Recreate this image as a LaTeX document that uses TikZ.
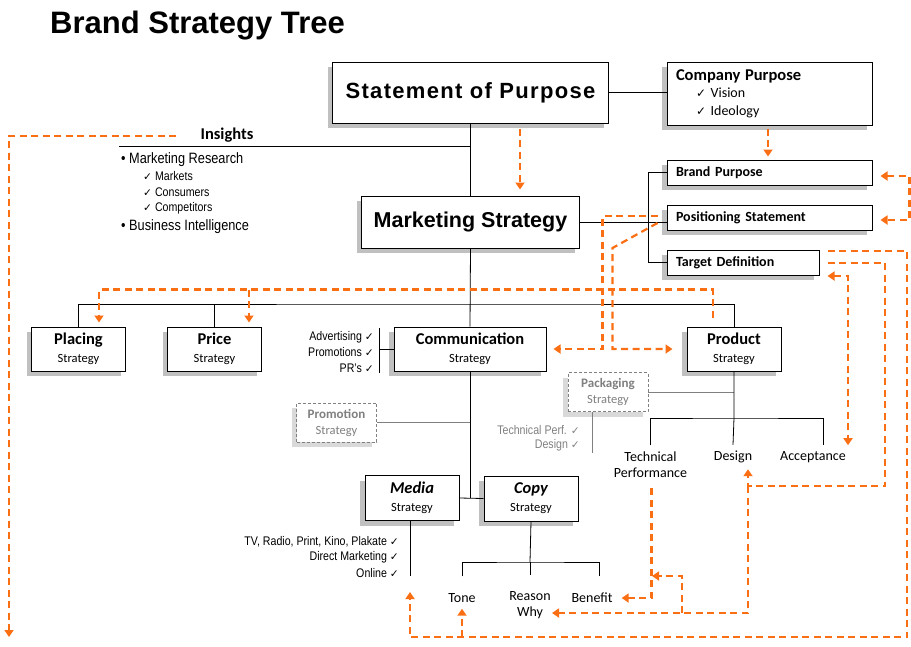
\documentclass[tikz,border=0pt]{standalone}
\usepackage{fontspec}
\setmainfont{Carlito}
\newfontfamily\arialfont{Liberation Sans}
\newfontfamily\spacedfont{Liberation Sans}[LetterSpace=6]
\newfontfamily\narrowfont{Liberation Sans}[FakeStretch=0.85]
\newfontfamily\symfont{DejaVu Sans}[Scale=0.85]
\usetikzlibrary{arrows.meta,shadows}
\definecolor{flowcol}{RGB}{250,110,20}
\definecolor{shadecol}{RGB}{192,192,192}
\definecolor{dimcol}{RGB}{128,128,128}
\newcommand{\ok}{{\symfont ✓}}
\newcommand{\stratname}[1]{{\fontsize{16.5}{18}\selectfont\bfseries #1}\\Strategy}
\newcommand{\ghostname}[1]{{\fontsize{13}{16}\selectfont\bfseries #1}\\Strategy}

\begin{document}
\begin{tikzpicture}[x=1pt,y=-1pt,>={Triangle[width=9pt,length=7pt]}]
\tikzset{
  box/.style={draw,line width=1pt,fill=white,inner sep=0pt,
    drop shadow={shadow xshift=-5pt,shadow yshift=-5pt,fill=shadecol,opacity=1}},
  stratbox/.style={box,minimum width=94,minimum height=44,align=center,font=\fontsize{12.5}{18}\selectfont},
  purposebox/.style={box,minimum height=25,inner xsep=9pt,align=left,font=\bfseries\fontsize{14}{16}\selectfont},
  ghostbox/.style={draw=dimcol,dash pattern=on 3pt off 2pt,line width=0.8pt,fill=white,text=dimcol,inner sep=0pt,
    minimum width=80,minimum height=39,align=center,font=\fontsize{12.5}{16}\selectfont,
    drop shadow={shadow xshift=-5pt,shadow yshift=-5pt,fill=black!15,opacity=1}},
  leaf/.style={inner xsep=1pt,inner ysep=6pt,align=center,font=\fontsize{14}{16.5}\selectfont},
  note/.style={inner sep=1pt,font=\narrowfont\fontsize{12.5}{14}\selectfont},
  tree/.style={line width=0.8pt},
  dimtree/.style={line width=0.8pt,draw=dimcol},
  flow/.style={draw=flowcol,line width=2.2pt,dash pattern=on 7pt off 4.5pt}
}
\useasboundingbox (0,0) rectangle (911,646);

\draw (50,33) node[anchor=base west,inner sep=0pt,font=\arialfont\bfseries\fontsize{31}{31}\selectfont] (title) {Brand Strategy Tree};

\draw (470.5,92.5) node[box,minimum width=276,minimum height=61,font=\spacedfont\bfseries\fontsize{22}{22}\selectfont] (sop) {Statement of Purpose};
\draw (769.5,93.5) node[box,minimum width=205,minimum height=63,text width=187,inner xsep=9pt,align=left,font=\fontsize{14}{17.5}\selectfont] (cp)
  {{\bfseries\fontsize{16.5}{17.5}\selectfont Company Purpose}\\\hspace*{20pt}\ok\ Vision\\\hspace*{20pt}\ok\ Ideology};
\draw (470.5,222) node[box,minimum width=218,minimum height=52,font=\arialfont\bfseries\fontsize{21.5}{22}\selectfont] (ms) {Marketing Strategy};

\draw (769.5,172.5) node[purposebox,text width=187] (bp) {Brand Purpose};
\draw (769.5,217.5) node[purposebox,text width=187] (ps) {Positioning Statement};
\draw (743,262.5) node[purposebox,text width=134] (td) {Target Definition};

\draw (227,135) node[inner sep=0pt,font=\bfseries\fontsize{16.5}{18}\selectfont] (insights) {Insights};
\draw (120,160) node[anchor=west,inner sep=1pt,font=\narrowfont\fontsize{15}{16}\selectfont] (mr) {\textbullet\ Marketing Research};
\draw (142,176.5) node[note,anchor=west] (mk) {\ok\ Markets};
\draw (142,192) node[note,anchor=west] (cs) {\ok\ Consumers};
\draw (142,208) node[note,anchor=west] (cmp) {\ok\ Competitors};
\draw (120,227) node[anchor=west,inner sep=1pt,font=\narrowfont\fontsize{15}{16}\selectfont] (bi) {\textbullet\ Business Intelligence};

\draw (78.5,349) node[stratbox] (placing) {\stratname{Placing}};
\draw (214.5,349) node[stratbox] (price) {\stratname{Price}};
\draw (470,349) node[stratbox,minimum width=152] (comm) {\stratname{Communication}};
\draw (734,349) node[stratbox] (product) {\stratname{Product}};
\draw (412,498) node[stratbox,minimum height=45] (media) {\stratname{\itshape Media}};
\draw (531,498.5) node[stratbox,minimum height=45] (copy) {\stratname{\itshape Copy}};

\draw (375,337) node[note,anchor=east] (adv) {Advertising \ok};
\draw (375,352) node[note,anchor=east] (prm) {Promotions \ok};
\draw (375,368) node[note,anchor=east] (prs) {PR’s \ok};

\draw (336.5,422.5) node[ghostbox] (promo) {\ghostname{Promotion}};
\draw (608,392) node[ghostbox] (pack) {\ghostname{Packaging}};
\draw (581,430) node[note,anchor=east,text=dimcol] (tperf) {Technical Perf. \ok};
\draw (581,445.5) node[note,anchor=east,text=dimcol] (pdes) {Design \ok};

\draw (650.5,464.5) node[leaf] (tp) {Technical\\Performance};
\draw (733,457) node[leaf] (design) {Design};
\draw (813,457) node[leaf] (accept) {Acceptance};

\draw (400,542) node[note,anchor=east] (tvr) {TV, Radio, Print, Kino, Plakate \ok};
\draw (400,557.5) node[note,anchor=east] (dm) {Direct Marketing \ok};
\draw (400,573) node[note,anchor=east] (onl) {Online \ok};

\draw (462,598) node[leaf] (tone) {Tone};
\draw (530,605) node[leaf] (reason) {Reason\\Why};
\draw (592,598) node[leaf] (benefit) {Benefit};

\coordinate (insl) at (119,146);
\coordinate (bus) at (470.5,304);
\coordinate (pbus) at (734,418);
\coordinate (cbus) at (530,562);
\coordinate (cbt) at (379,328);
\coordinate (cbb) at (379,373);
\coordinate (mend) at (410,576);
\coordinate (pkend) at (592,453);
\coordinate (insend) at (9,637);
\coordinate (lowright) at (907,637);
\coordinate (tdc) at (885,486);
\coordinate (dsn) at (748,486);
\coordinate (tjn) at (682,613);
\coordinate (tpk) at (651,576);

\draw[tree] (sop.east) -- (sop.east -| cp.west);
\draw[tree] (sop.south) -- (ms.north);
\draw[tree] (insl) -- (insl -| sop.south);
\draw[tree] (ms.east) -- (ms.east -| ps.west);
\draw[tree] (bp.west) -- ++(-18,0) |- (td.west);
\draw[tree] (ms.south) -- (comm.north);
\draw[tree] (placing.north) |- (bus) -| (product.north);
\draw[tree] (price.north) -- (price.north |- bus);
\draw[tree] (comm.west) -- (comm.west -| cbt);
\draw[tree] (cbt) -- (cbb);
\draw[tree] (comm.south) -- (comm.south |- media.east);
\draw[tree] (media.east) -- (copy.west);
\draw[dimtree] (promo.east) -- (promo.east -| comm.south);
\draw[dimtree] (pack.east) -- (pack.east -| product.south);
\draw[dimtree] (pack.south -| pkend) -- (pkend);
\draw[tree] (product.south) -- (pbus) -- (design.north);
\draw[tree] (tp.north) |- (pbus) -| ([xshift=10pt]accept.north);
\draw[tree] (media.south -| mend) -- (mend);
\draw[tree] (copy.south) -- (cbus);
\draw[tree] ([shift={(0,-11)}]tone.north) |- (cbus) -| ([shift={(7,-11)}]benefit.north);
\draw[tree] (cbus) -- ([shift={(0,-10)}]reason.north);

\draw[flow,->] ([shift={(-24,1)}]insights.west) -| (insend);
\draw[flow,->] ([shift={(49.5,5)}]sop.south) -- ([shift={(49.5,-6)}]ms.north);
\draw[flow,->] ([shift={(-1.5,3)}]cp.south) -- ([shift={(-1.5,-3)}]bp.north);
\draw[flow,<->] ([shift={(8,3.5)}]bp.east) -- ++(29,0) |- ([shift={(8,2.5)}]ps.east);
\draw[flow,->] ([shift={(-9,-1.5)}]ps.west) -| ([xshift=56pt]comm.east) -- ([xshift=7pt]comm.east);
\draw[flow,->] ([shift={(-9,5.5)}]ps.west) -- ++(-45,25) |- ([xshift=-14pt]product.west);
\draw[flow,->] ([shift={(-21,-9)}]product.north) |- ([shift={(20.5,-37)}]placing.north) -- ([shift={(20.5,-4)}]placing.north);
\draw[flow,->] ([shift={(34.5,-37)}]price.north) -- ([shift={(34.5,-4)}]price.north);
\draw[flow,->] ([shift={(8,-11.5)}]td.east) -| (lowright) -| ([shift={(0,16)}]mend);
\draw[flow,->] (tone.south |- lowright) -- (tone.south);
\draw[flow,->] ([shift={(8,0.5)}]td.east) -| (tdc) -- (dsn) -- (dsn |- design.south);
\draw[flow,->] (dsn) |- ([shift={(22,8)}]reason.center);
\draw[flow,->] (tjn) |- ([xshift=1pt]tpk);
\draw[flow,->] ([shift={(1,4.5)}]tp.south) |- ([xshift=8pt]benefit.east);
\draw[flow,<->] ([shift={(8,13.5)}]td.east) -| ([shift={(35,0)}]accept.north);
\end{tikzpicture}
\end{document}
